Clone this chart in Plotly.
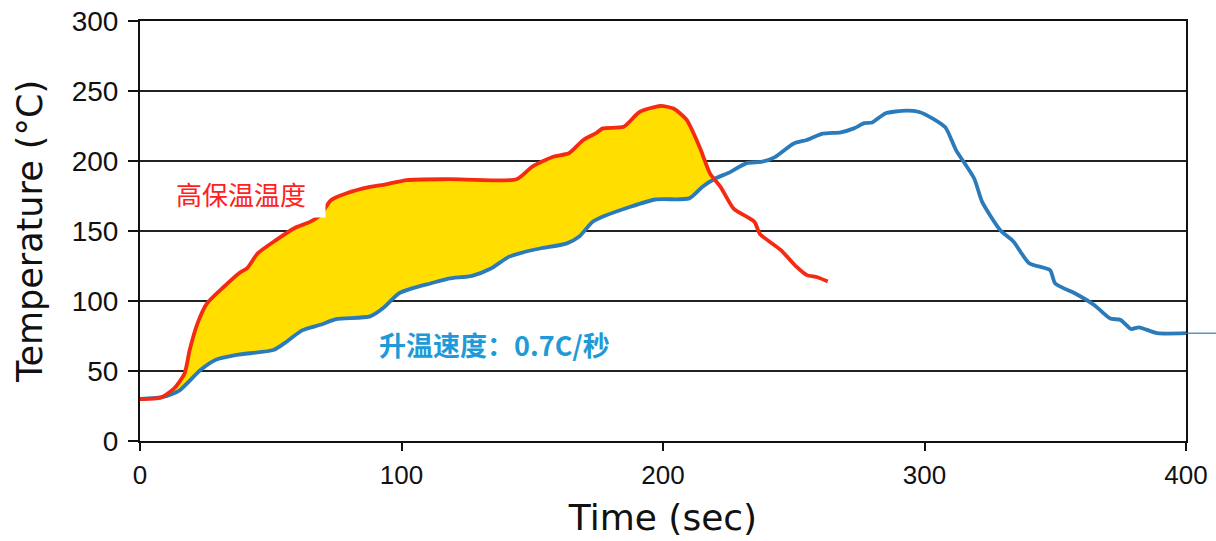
import numpy as np
import plotly.graph_objects as go

# Blue curve: ramp profile (升温速度 0.7C/秒)
blue_t = [0, 9, 15, 23, 29, 37, 51, 55, 62, 69, 75, 88, 93, 99, 104, 111, 118, 127, 134, 141, 147,
          153, 163, 168, 173, 178, 187, 197, 210, 215, 220, 225, 232, 238, 243, 250, 255, 261, 268,
          273, 277, 280, 285, 293, 298, 303, 308, 312, 319, 322, 329, 334, 340, 348, 350, 358, 365,
          371, 375, 379, 382, 389, 400]
blue_T = [30, 31.5, 36, 50.5, 58, 61.5, 65, 69.5, 79, 83, 87, 89, 95, 105.5, 109, 112.5, 116, 118,
          123, 131.5, 135, 137.5, 141, 146, 156.5, 161, 167, 172.5, 173.3, 181.5, 187.5, 191.5,
          198.5, 199.5, 203, 212.5, 215, 219.5, 220.5, 223.3, 227, 227.5, 234, 236, 235, 230.5,
          224, 208, 187.5, 171, 150.5, 142.5, 127, 122, 112.5, 105, 97, 87.5, 86.5, 80, 81.2, 77, 77]

# Red curve: high soak profile (高保温温度)
red_t = [0, 8, 13, 17, 19, 22, 25.5, 32, 38, 41, 45, 52, 59, 65, 69, 73, 79, 88, 94, 102, 118,
         144, 150, 158, 164, 169.5, 174.5, 177, 185, 191, 199, 204, 209, 214, 218, 222, 227, 235,
         237, 245, 251, 255, 259, 263]
red_T = [30, 31, 37.5, 48, 65, 84, 98, 110, 120, 123.5, 134, 143.5, 152, 156.5, 161.5, 172, 177,
         181.5, 183.3, 186.4, 187, 187, 196, 203, 205.5, 215, 220, 223.3, 224.5, 235, 239.3,
         237.5, 229.5, 210, 191, 181.5, 166, 156.5, 148, 136.5, 124.5, 118.5, 117, 114]

x_ticks = [0, 100, 200, 300, 400]
y_ticks = [0, 50, 100, 150, 200, 250, 300]

# --- filled region between the curves, up to where they cross ---
grid = np.linspace(0, 240, 2401)
diff = np.interp(grid, red_t, red_T) - np.interp(grid, blue_t, blue_T)
idx = np.where((grid > 100) & (diff <= 0))[0][0]
tc = grid[idx]
Tc = float(np.interp(tc, blue_t, blue_T))
rt = np.array(red_t); rT = np.array(red_T)
bt = np.array(blue_t); bT = np.array(blue_T)
poly_x = list(rt[rt < tc]) + [tc] + list(bt[bt < tc][::-1])
poly_y = list(rT[rt < tc]) + [Tc] + list(bT[bt < tc][::-1])

RED = "#f52a12"
BLUE = "#2b7bba"

fig = go.Figure()
fig.add_trace(go.Scatter(x=poly_x, y=poly_y, fill="toself", fillcolor="#ffde00",
                         line=dict(width=0, color="#ffde00"), mode="lines",
                         hoverinfo="skip", showlegend=False))
fig.add_trace(go.Scatter(x=blue_t, y=blue_T, mode="lines",
                         line=dict(color=BLUE, width=3.8, shape="spline", smoothing=0.6),
                         showlegend=False))
fig.add_trace(go.Scatter(x=red_t, y=red_T, mode="lines",
                         line=dict(color=RED, width=3.8, shape="spline", smoothing=0.6),
                         showlegend=False))

# thin extension of the blue line beyond the plot edge
fig.add_shape(type="line", xref="paper", yref="y", x0=1.0, x1=1.03,
              y0=blue_T[-1], y1=blue_T[-1], line=dict(color=BLUE, width=1.2))

fig.add_annotation(x=38.6, y=177.5, xref="x", yref="y", text="高保温温度", showarrow=False,
                   font=dict(family="Noto Sans CJK SC", size=26, color="#ff2020"),
                   bgcolor="white", width=166, height=46, xanchor="center", yanchor="middle")
fig.add_annotation(x=135.5, y=69, xref="x", yref="y", text="<b>升温速度：0.7C/秒</b>",
                   showarrow=False,
                   font=dict(family="Noto Sans CJK SC", size=27, color="#1f9ad8"),
                   xanchor="center", yanchor="middle")

tick_font_y = dict(family="Liberation Sans, Arial, sans-serif", size=28, color="#111")
tick_font_x = dict(family="Liberation Sans, Arial, sans-serif", size=26, color="#111")
title_font_x = dict(family="DejaVu Sans, sans-serif", size=36, color="#111")
title_font_y = dict(family="DejaVu Sans, sans-serif", size=35, color="#111")
fig.update_layout(
    width=1216, height=541,
    margin=dict(l=140, r=30, t=21, b=100),
    plot_bgcolor="white", paper_bgcolor="white",
    xaxis=dict(range=[0, 400], tickvals=x_ticks, ticks="outside", ticklen=8, tickwidth=2,
               tickcolor="#111", showline=True, linecolor="#111", linewidth=2, mirror=True,
               showgrid=False, zeroline=False, tickfont=tick_font_x, ticklabelstandoff=2,
               automargin=False,
               title=dict(text="Time (sec)", standoff=16, font=title_font_x)),
    yaxis=dict(range=[0, 300], tickvals=y_ticks, ticks="outside", ticklen=10, tickwidth=2,
               tickcolor="#111", showline=True, linecolor="#111", linewidth=2, mirror=True,
               showgrid=True, gridcolor="#222", gridwidth=2, zeroline=False, tickfont=tick_font_y,
               ticklabelstandoff=4, automargin=False,
               title=dict(text="Temperature (°C)", standoff=18, font=title_font_y)),
)

html = fig.to_html(full_html=True, include_plotlyjs=True, config={"displayModeBar": False})
html = html.replace("<body>", '<body style="margin:0;padding:0;overflow:hidden">', 1)
with open("out.html", "w", encoding="utf-8") as f:
    f.write(html)
